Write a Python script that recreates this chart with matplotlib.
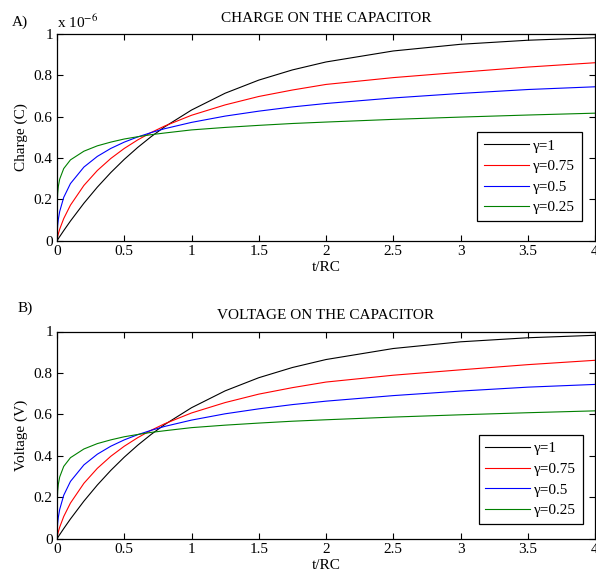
import matplotlib
matplotlib.use("Agg")
import matplotlib.pyplot as plt

plt.rcParams['font.family'] = ['Liberation Serif', 'DejaVu Serif']
plt.rcParams['mathtext.fontset'] = 'stix'
plt.rcParams['font.size'] = 11

# normalised time t/RC
t_rc = [0, 0.001, 0.005, 0.01, 0.02, 0.05, 0.1, 0.2, 0.3, 0.4, 0.5, 0.6,
        0.7, 0.8, 1.0, 1.25, 1.5, 1.75, 2.0, 2.5, 3.0, 3.5, 4.0]

# normalised response for each fractional order
resp_g100 = [0, 0.0010, 0.0050, 0.0100, 0.0198, 0.0488, 0.0952, 0.1813, 0.2592,
             0.3297, 0.3935, 0.4512, 0.5034, 0.5507, 0.6321, 0.7135, 0.7769,
             0.8262, 0.8647, 0.9179, 0.9502, 0.9698, 0.9817]
resp_g075 = [0, 0.0061, 0.0202, 0.0337, 0.0558, 0.1071, 0.1720, 0.2674, 0.3397,
             0.3978, 0.4463, 0.4876, 0.5234, 0.5547, 0.6068, 0.657, 0.6977,
             0.729, 0.7560, 0.789, 0.815, 0.840, 0.861]
resp_g050 = [0, 0.0347, 0.0751, 0.1036, 0.1415, 0.2096, 0.2764, 0.3562, 0.4079,
             0.4464, 0.4769, 0.5020, 0.5231, 0.5418, 0.5724, 0.6028, 0.6267,
             0.6472, 0.6638, 0.6906, 0.7125, 0.7314, 0.7446]
resp_g025 = [0, 0.166, 0.230, 0.263, 0.298, 0.349, 0.391, 0.433, 0.459, 0.477,
             0.492, 0.503, 0.513, 0.521, 0.536, 0.548, 0.558, 0.567, 0.574,
             0.587, 0.598, 0.608, 0.617]

series = [resp_g100, resp_g075, resp_g050, resp_g025]
labels = ['γ=1', 'γ=0.75', 'γ=0.5', 'γ=0.25']
colors = ['black', 'red', 'blue', '#008000']

x_ticks = [0, 0.5, 1, 1.5, 2, 2.5, 3, 3.5, 4]
x_ticklabels = ['0', '0.5', '1', '1.5', '2', '2.5', '3', '3.5', '4']
y_ticks = [0, 0.2, 0.4, 0.6, 0.8, 1]
y_ticklabels = ['0', '0.2', '0.4', '0.6', '0.8', '1']

W, H = 596, 578
fig = plt.figure(figsize=(W / 100, H / 100), dpi=100)

def px_axes(left, top, right, bottom):
    return fig.add_axes([left / W, 1 - bottom / H, (right - left) / W, (bottom - top) / H])

ax_q = px_axes(57, 34, 595, 240.7)
ax_v = px_axes(57, 331.5, 595, 538.7)

panels = [
    (ax_q, 'CHARGE ON THE CAPACITOR', 'Charge (C)', 'A)'),
    (ax_v, 'VOLTAGE ON THE CAPACITOR', 'Voltage (V)', 'B)'),
]

for ax, title, ylab, tag in panels:
    for vals, lab, col in zip(series, labels, colors):
        ax.plot(t_rc, vals, color=col, lw=0.8, label=lab)
    ax.set_xlim(0, 4)
    ax.set_ylim(0, 1)
    ax.set_xticks(x_ticks)
    ax.set_xticklabels(x_ticklabels)
    ax.set_yticks(y_ticks)
    ax.set_yticklabels(y_ticklabels)
    ax.tick_params(direction='in', top=True, right=True, length=4, width=0.8,
                   labelsize=11, pad=3)
    for sp in ax.spines.values():
        sp.set_linewidth(0.9)
    ax.set_title(title, fontsize=11, pad=9)
    ax.set_xlabel('t/RC', fontsize=11, labelpad=2)
    ax.set_ylabel(ylab, fontsize=11, labelpad=4)

ax_q.legend(loc='upper right', bbox_to_anchor=(0.976, 0.525), frameon=True,
            fancybox=False, edgecolor='black', framealpha=1, fontsize=11,
            handlelength=2.9, labelspacing=0.45, borderpad=0.45,
            handletextpad=0.3, borderaxespad=0)
ax_v.legend(loc='lower right', bbox_to_anchor=(0.978, 0.071), frameon=True,
            fancybox=False, edgecolor='black', framealpha=1, fontsize=11,
            handlelength=2.9, labelspacing=0.45, borderpad=0.45,
            handletextpad=0.3, borderaxespad=0)
for leg in (ax_q.get_legend(), ax_v.get_legend()):
    leg.get_frame().set_linewidth(0.9)

fig.text(12 / W, 1 - 22 / H, 'A)', fontsize=11, va='center', ha='left')
fig.text(18 / W, 1 - 308 / H, 'B)', fontsize=11, va='center', ha='left')
fig.text(57 / W, 1 - 22 / H, r'x 10$^{-6}$', fontsize=11, va='center', ha='left')

fig.savefig('out.png', dpi=100)
